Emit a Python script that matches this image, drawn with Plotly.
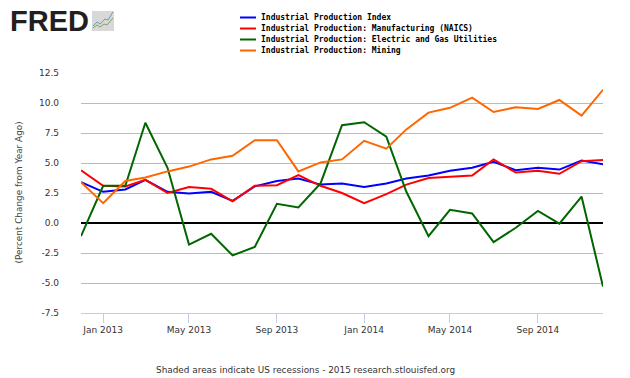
import plotly.graph_objects as go

W, H = 630, 378
L, R, T, B = 81, 27, 73, 65

dates = ["2012-12","2013-01","2013-02","2013-03","2013-04","2013-05","2013-06","2013-07","2013-08","2013-09","2013-10","2013-11",
         "2013-12","2014-01","2014-02","2014-03","2014-04","2014-05","2014-06","2014-07","2014-08","2014-09","2014-10","2014-11","2014-12"]
dates = [d + "-01" for d in dates]

index_vals = [3.4,2.6,2.8,3.6,2.6,2.45,2.6,1.85,3.05,3.5,3.7,3.2,3.3,3.0,3.3,3.7,3.95,4.35,4.6,5.1,4.4,4.6,4.45,5.2,4.9]
manufacturing = [4.4,3.1,3.05,3.6,2.5,3.0,2.85,1.8,3.1,3.15,4.0,3.1,2.5,1.65,2.4,3.2,3.75,3.85,3.95,5.3,4.2,4.35,4.1,5.15,5.25]
utilities = [-1.1,3.1,3.1,8.35,4.6,-1.8,-0.9,-2.7,-2.0,1.6,1.3,3.3,8.15,8.4,7.2,2.6,-1.1,1.1,0.8,-1.6,-0.4,1.0,-0.05,2.2,-5.3]
mining = [3.4,1.65,3.5,3.8,4.3,4.7,5.3,5.6,6.9,6.9,4.3,5.05,5.3,6.85,6.2,7.8,9.2,9.6,10.45,9.25,9.65,9.5,10.25,8.95,11.1]

names = ["Industrial Production Index", "Industrial Production: Manufacturing (NAICS)",
         "Industrial Production: Electric and Gas Utilities", "Industrial Production: Mining"]
colors = ["#0000FF", "#FF0000", "#006600", "#FF6600"]
series = [index_vals, manufacturing, utilities, mining]

y_ticks = [12.5, 10, 7.5, 5, 2.5, 0, -2.5, -5, -7.5]
y_labels = ["12.5", "10.0", "7.5", "5.0", "2.5", "0.0", "-2.5", "-5.0", "-7.5"]
x_ticks = ["2013-01-01", "2013-05-01", "2013-09-01", "2014-01-01", "2014-05-01", "2014-09-01"]
x_labels = ["Jan 2013", "May 2013", "Sep 2013", "Jan 2014", "May 2014", "Sep 2014"]

# window pixels -> paper fractions
px = lambda x: (x - L) / (W - L - R)
py = lambda y: 1 - (y - T) / (H - T - B)

fig = go.Figure()
for n, c, s in zip(names, colors, series):
    fig.add_trace(go.Scatter(x=dates, y=s, name=n, mode="lines", line=dict(color=c, width=2), showlegend=False))

ann = []
shapes = []
FONT = "DejaVu Sans"

def text(x, y, t, size, color="#333333", anchor="left", angle=0, family=FONT, bold=False):
    ann.append(dict(xref="paper", yref="paper", x=px(x), y=py(y), text=f"<b>{t}</b>" if bold else t,
                    showarrow=False, xanchor=anchor, yanchor="middle", textangle=angle,
                    font=dict(size=size, color=color, family=family)))

for i, (n, c) in enumerate(zip(names, colors)):
    yy = 17.5 + i * 11
    shapes.append(dict(type="line", xref="paper", yref="paper", x0=px(240), x1=px(256), y0=py(yy), y1=py(yy),
                       line=dict(color=c, width=2)))
    text(259, yy - 0.5, n, 8, color="#000000", family="DejaVu Sans Mono", bold=True)

text(154, 370, "Shaded areas indicate US recessions - 2015 research.stlouisfed.org", 8.9, color="#333333")
text(18, 192.5, "(Percent Change from Year Ago)", 8.9, color="#444444", anchor="center", angle=-90)

# FRED logo
text(8, 21, "FRED", 29, color="#231F20", family="Liberation Sans", bold=True)
shapes.append(dict(type="rect", xref="paper", yref="paper", x0=px(92), x1=px(114), y0=py(11), y1=py(31),
                   fillcolor="#D8D8D8", line=dict(width=0), layer="below"))
def spark(points, color):
    d = "M" + " L".join(f"{px(a):.4f},{py(b):.4f}" for a, b in points)
    shapes.append(dict(type="path", xref="paper", yref="paper", path=d, line=dict(color=color, width=1)))
spark([(93,26),(97,22),(100,24),(105,19),(108,20),(113,12)], "#6F9DB5")
spark([(93,28),(97,25),(100,27),(104,24),(107,25),(113,18)], "#7FA35A")

fig.update_layout(
    width=W, height=H, autosize=False,
    margin=dict(l=L, r=R, t=T, b=B, pad=0),
    paper_bgcolor="white", plot_bgcolor="white",
    annotations=ann, shapes=shapes,
    xaxis=dict(type="date", range=["2012-12-01", "2014-12-01"], tickvals=x_ticks, ticktext=x_labels,
               ticks="outside", ticklen=9, tickwidth=1, tickcolor="#C0D0E0", showgrid=False, zeroline=False,
               showline=True, linecolor="#C0D0E0", linewidth=1, tickangle=0, ticklabelstandoff=-1,
               tickfont=dict(size=9, color="#333333", family=FONT)),
    yaxis=dict(range=[-7.5, 12.5], tickvals=y_ticks, ticktext=y_labels, showgrid=True, gridcolor="#BBBBBB",
               gridwidth=1, zeroline=True, zerolinecolor="#000000", zerolinewidth=2, showline=False,
               ticks="", ticklabelstandoff=21, tickfont=dict(size=9, color="#333333", family=FONT)),
    hovermode=False,
)
fig.write_html("out.html", config=dict(displayModeBar=False),
               post_script="document.body.style.margin='0';")
